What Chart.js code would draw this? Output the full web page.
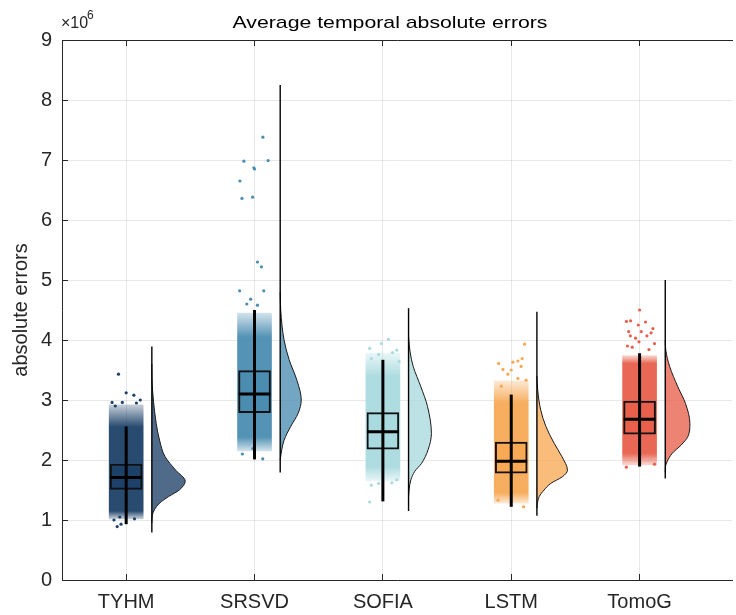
<!DOCTYPE html>
<html>
<head>
<title>Average temporal absolute errors</title>
<script src="https://cdn.jsdelivr.net/npm/chart.js"></script>
<style>
  html, body { margin: 0; padding: 0; background: #fff; }
  #wrap { width: 736px; height: 615px; }
</style>
</head>
<body>
<div id="wrap"><canvas id="rainChart" width="736" height="615"></canvas></div>
<script>
// values are in units of 10^6
var categories = ['TYHM', 'SRSVD', 'SOFIA', 'LSTM', 'TomoG'];
var yTicks = [0, 1, 2, 3, 4, 5, 6, 7, 8, 9];

// box plot
var whiskerLow  = [0.93, 2.01, 1.31, 1.22, 1.89];
var quart1      = [1.51, 2.79, 2.18, 1.78, 2.43];
var medians     = [1.71, 3.10, 2.47, 1.98, 2.68];
var quart3      = [1.93, 3.49, 2.79, 2.30, 2.98];
var whiskerHigh = [2.56, 4.50, 3.67, 3.09, 3.78];

// dense part of the jittered cloud
var coreLow    = [1.15, 2.38, 1.89, 1.45, 2.11];
var coreHigh   = [2.55, 4.05, 3.39, 2.95, 3.61];
var fringeLow  = [1.02, 2.15, 1.65, 1.28, 1.92];
var fringeHigh = [2.92, 4.45, 3.78, 3.32, 3.74];

// single points outside the dense part: [jitter, value]
var tyhmPts = [[-0.06, 3.43], [0, 3.12], [0.06, 3.08], [0.11, 3.0], [-0.11, 2.96], [-0.03, 2.96],
  [0.08, 2.95], [-0.085, 2.9], [-0.07, 0.89], [-0.04, 0.93], [-0.05, 1.05], [0.065, 1.02], [-0.095, 1.0]];
var srsvdPts = [[0.065, 7.38], [-0.083, 6.98], [0.106, 6.99], [-0.005, 6.87], [0, 6.85], [-0.114, 6.65],
  [-0.098, 6.36], [-0.015, 6.38], [0.023, 5.30], [0.054, 5.22], [-0.116, 4.82], [0.072, 4.82],
  [-0.03, 4.68], [-0.06, 4.60], [0.023, 4.58], [-0.095, 2.10], [0.064, 2.02], [-0.013, 2.19]];
var sofiaPts = [[0.044, 4.01], [-0.012, 3.94], [-0.103, 3.86], [0.108, 3.83], [0.075, 3.79], [-0.033, 3.76],
  [-0.09, 3.69], [0.127, 3.64], [-0.103, 1.30], [-0.033, 1.61], [0.07, 1.62], [-0.09, 1.58], [0.108, 1.67]];
var lstmPts = [[0.104, 3.93], [0.085, 3.69], [-0.098, 3.61], [0.013, 3.63], [0.052, 3.65], [-0.064, 3.51],
  [0, 3.50], [0.077, 3.56], [-0.026, 3.43], [0.116, 3.33], [0.052, 3.36], [-0.077, 3.23],
  [0.096, 1.22], [-0.103, 1.33]];
var tomogPts = [[0, 4.50], [-0.103, 4.31], [-0.07, 4.32], [0.046, 4.30], [-0.01, 4.25], [0.104, 4.19],
  [-0.085, 4.14], [0.013, 4.14], [0.09, 4.12], [-0.072, 4.07], [0.057, 4.07], [-0.031, 4.03],
  [0.116, 3.94], [-0.095, 3.90], [-0.005, 3.97], [-0.057, 3.88], [0.073, 3.84], [-0.103, 1.88], [0.116, 1.93]];

// half violins: support range and density profile
var violinMin = [0.79, 1.79, 1.15, 1.07, 1.69];
var violinMax = [3.89, 8.25, 4.53, 4.47, 5.00];
var tyhmKdeY  = [0.95, 1.08, 1.17, 1.28, 1.39, 1.50, 1.65, 1.83, 2.06, 2.33, 2.61, 3.00, 3.30, 3.60];
var tyhmKdeD  = [0, 0.02, 0.10, 0.30, 0.65, 1.07, 1.30, 0.93, 0.51, 0.30, 0.17, 0.06, 0.01, 0];
var srsvdKdeY = [2.00, 2.17, 2.33, 2.56, 2.78, 3.00, 3.33, 3.67, 4.00, 4.50, 4.80];
var srsvdKdeD = [0, 0.06, 0.15, 0.41, 0.70, 0.82, 0.65, 0.35, 0.15, 0.02, 0];
var sofiaKdeY = [1.40, 1.50, 1.67, 1.81, 1.94, 2.17, 2.44, 2.89, 3.22, 3.56, 3.80, 4.05];
var sofiaKdeD = [0, 0.02, 0.09, 0.24, 0.50, 0.76, 0.89, 0.74, 0.48, 0.18, 0.06, 0];
var lstmKdeY  = [1.20, 1.28, 1.39, 1.50, 1.61, 1.72, 1.83, 2.06, 2.28, 2.56, 2.83, 3.17, 3.40];
var lstmKdeD  = [0, 0.02, 0.09, 0.28, 0.54, 0.99, 1.19, 0.97, 0.67, 0.35, 0.15, 0.03, 0];
var tomogKdeY = [1.80, 1.89, 1.97, 2.11, 2.25, 2.39, 2.61, 2.94, 3.22, 3.56, 3.83, 4.00];
var tomogKdeD = [0, 0.01, 0.07, 0.27, 0.62, 0.88, 0.96, 0.79, 0.49, 0.17, 0.02, 0];

var groupPts = [tyhmPts, srsvdPts, sofiaPts, lstmPts, tomogPts];
var kdeY = [tyhmKdeY, srsvdKdeY, sofiaKdeY, lstmKdeY, tomogKdeY];
var kdeD = [tyhmKdeD, srsvdKdeD, sofiaKdeD, lstmKdeD, tomogKdeD];

var colors = [[29, 65, 104], [75, 141, 177], [169, 218, 223], [247, 169, 86], [232, 96, 76]];
function rgba(c, a) { return 'rgba(' + c[0] + ',' + c[1] + ',' + c[2] + ',' + a + ')'; }

var VIOLIN_OFFSET = 0.2;   // distance of violin base from category centre
var VIOLIN_SCALE = 0.2;    // density -> x units
var BOX_HALF = 0.124;
var FONT = '"Liberation Sans", Arial, sans-serif';
var AXIS_COLOR = '#262626';
var GRID_COLOR = 'rgba(0,0,0,0.09)';

// cloud colour fades out towards the sparse ends
function cloudFill(i) {
  return function (context) {
    var chart = context.chart;
    if (!chart.chartArea) return rgba(colors[i], 1);
    var ys = chart.scales.y;
    var top = ys.getPixelForValue(fringeHigh[i]);
    var bottom = ys.getPixelForValue(fringeLow[i]);
    var span = fringeHigh[i] - fringeLow[i];
    var g = chart.ctx.createLinearGradient(0, top, 0, bottom);
    g.addColorStop(0, rgba(colors[i], 0.25));
    g.addColorStop((fringeHigh[i] - coreHigh[i]) / span, rgba(colors[i], 0.95));
    g.addColorStop((fringeHigh[i] - coreLow[i]) / span, rgba(colors[i], 0.95));
    g.addColorStop(1, rgba(colors[i], 0.25));
    return g;
  };
}

var datasets = [];
categories.forEach(function (name, i) {
  var c = i + 1;
  var base = c + VIOLIN_OFFSET;
  // cloud
  datasets.push({
    type: 'bar', grouped: false, order: 20, barThickness: 34,
    data: [{x: c, y: [fringeLow[i], fringeHigh[i]]}],
    backgroundColor: cloudFill(i), borderWidth: 0
  });
  datasets.push({
    type: 'scatter', order: 18,
    data: groupPts[i].map(function (p) { return {x: c + p[0], y: p[1]}; }),
    pointRadius: 1.6, pointBorderWidth: 0, backgroundColor: rgba(colors[i], 1)
  });
  // half violin
  datasets.push({
    type: 'line', indexAxis: 'y', order: 12,
    data: kdeY[i].map(function (y, k) { return {x: base + kdeD[i][k] * VIOLIN_SCALE, y: y}; }),
    borderColor: '#1a1a1a', borderWidth: 1, pointRadius: 0,
    cubicInterpolationMode: 'monotone',
    backgroundColor: rgba(colors[i], 0.78),
    fill: {value: base}
  });
  datasets.push({
    type: 'scatter', showLine: true, order: 11,
    data: [{x: base, y: violinMin[i]}, {x: base, y: violinMax[i]}],
    borderColor: '#000', borderWidth: 1.4, pointRadius: 0
  });
  // box
  datasets.push({
    type: 'bar', grouped: false, order: 8, barThickness: 32,
    data: [{x: c, y: [quart1[i], quart3[i]]}],
    backgroundColor: rgba(colors[i], 1), borderColor: '#111', borderWidth: 2, borderSkipped: false
  });
  datasets.push({
    type: 'scatter', showLine: true, order: 3,
    data: [{x: c, y: whiskerLow[i]}, {x: c, y: whiskerHigh[i]}],
    borderColor: '#000', borderWidth: 3, pointRadius: 0
  });
  datasets.push({
    type: 'scatter', showLine: true, order: 2,
    data: [{x: c - BOX_HALF, y: medians[i]}, {x: c + BOX_HALF, y: medians[i]}],
    borderColor: '#000', borderWidth: 3, pointRadius: 0
  });
});

var figText = {
  id: 'figText',
  afterDraw: function (chart) {
    var ctx = chart.ctx;
    ctx.save();
    ctx.fillStyle = '#000';
    ctx.textAlign = 'center';
    ctx.textBaseline = 'alphabetic';
    ctx.font = '17px ' + FONT;
    ctx.translate(390, 28);
    ctx.scale(1.25, 1);
    ctx.fillText('Average temporal absolute errors', 0, 0);
    ctx.restore();

    ctx.save();
    ctx.fillStyle = AXIS_COLOR;
    ctx.textAlign = 'left';
    ctx.font = '16px ' + FONT;
    ctx.fillText('\u00d710', 61, 28);
    ctx.font = '12px ' + FONT;
    ctx.fillText('6', 87, 19);
    ctx.restore();
  }
};

function categoryTicks(axis) {
  axis.ticks = categories.map(function (n, i) { return {value: i + 1}; });
}

var ctx = document.getElementById('rainChart').getContext('2d');
var chart = new Chart(ctx, {
  type: 'scatter',
  data: { datasets: datasets },
  options: {
    responsive: false,
    animation: false,
    events: [],
    layout: { padding: { left: 0, top: 40, right: 0, bottom: 0 } },
    plugins: {
      legend: { display: false },
      tooltip: { enabled: false },
      title: { display: false }
    },
    scales: {
      x: {
        type: 'linear', min: 0.5, max: 5.72, offset: false,
        afterBuildTicks: categoryTicks,
        afterFit: function (axis) { axis.height = 35; },
        ticks: {
          padding: 16, color: AXIS_COLOR,
          font: { family: FONT, size: 20 },
          callback: function (v) { return categories[v - 1]; }
        },
        // negative tick length -> ticks point into the plot
        grid: { color: GRID_COLOR, offset: false, drawTicks: true, tickLength: -6, tickColor: AXIS_COLOR },
        border: { color: AXIS_COLOR, width: 1 }
      },
      x2: {
        type: 'linear', position: 'top', min: 0.5, max: 5.72, offset: false,
        afterBuildTicks: categoryTicks,
        afterFit: function (axis) { axis.height = 0; },
        ticks: { display: false },
        grid: { drawOnChartArea: false, drawTicks: true, tickLength: -6, tickColor: AXIS_COLOR },
        border: { display: true, color: AXIS_COLOR, width: 1 }
      },
      y: {
        min: 0, max: 9,
        afterBuildTicks: function (axis) {
          axis.ticks = yTicks.map(function (v) { return {value: v}; });
        },
        afterFit: function (axis) { axis.width = 62; },
        ticks: {
          padding: 16, color: AXIS_COLOR,
          font: { family: FONT, size: 20 }
        },
        grid: { color: GRID_COLOR, drawTicks: true, tickLength: -6, tickColor: AXIS_COLOR },
        border: { color: AXIS_COLOR, width: 1 },
        title: {
          display: true, text: 'absolute errors', color: AXIS_COLOR,
          font: { family: FONT, size: 20 },
          padding: { top: 9, bottom: 0 }
        }
      }
    }
  },
  plugins: [figText]
});
</script>
</body>
</html>
